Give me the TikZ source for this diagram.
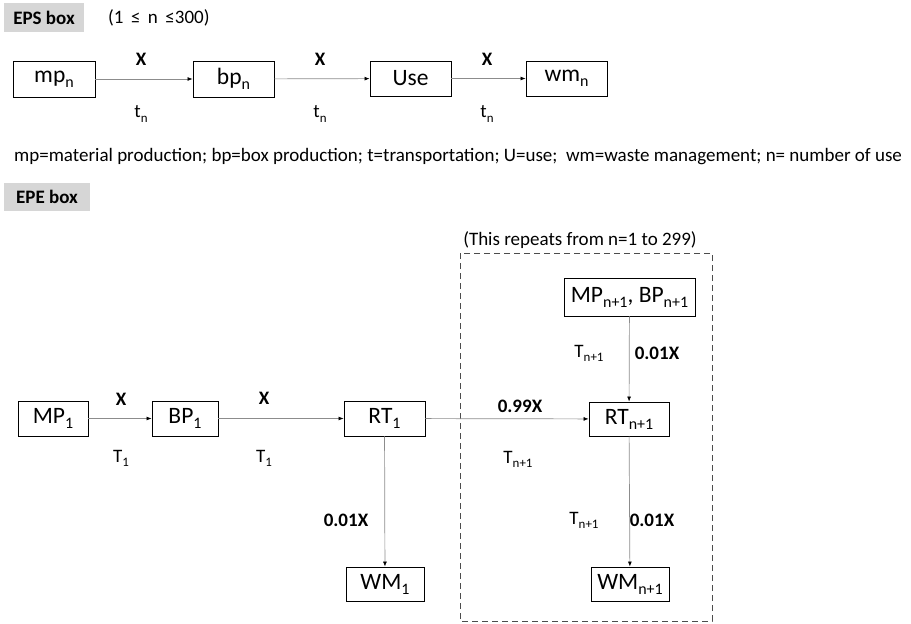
\documentclass[tikz,border=0pt]{standalone}
\usepackage{fontspec}
\setmainfont{Carlito}
\usetikzlibrary{arrows.meta}
\newcommand{\sbx}[1]{\raisebox{-0.45ex}{\scalebox{0.68}{#1}}}
\begin{document}
\begin{tikzpicture}[x=1pt,y=-1pt,
  box/.style={draw=black,line width=0.9pt,rectangle,inner sep=0pt,font=\fontsize{23.5}{26}\selectfont},
  arr/.style={draw=black!45,line width=0.7pt,-{Latex[length=5pt,width=4pt,color=black]}},
  lbl/.style={inner sep=0pt,font=\fontsize{19}{22}\selectfont},
  blbl/.style={inner sep=0pt,font=\bfseries\fontsize{19}{22}\selectfont},
  tag/.style={fill=black!16,inner sep=0pt,font=\bfseries\fontsize{19}{22}\selectfont}]
\useasboundingbox (0,0) rectangle (911,624);
% EPS header
\node[tag,minimum width=80,minimum height=29] (eps) at (44,17.5) {EPS box};
\node[lbl,anchor=west] (range) at (108,18) {(1 \,≤\, n \,≤300)};
% EPS row
\node[box,minimum width=82,minimum height=36] (mp) at (54,79) {mp\sbx{n}};
\node[box,minimum width=81,minimum height=36] (bp) at (233.5,79) {bp\sbx{n}};
\node[box,minimum width=81,minimum height=35] (use) at (410.5,78.5) {Use};
\node[box,minimum width=81,minimum height=35] (wm) at (566.5,78.5) {wm\sbx{n}};
\draw[arr] (mp) -- (bp);
\draw[arr] (bp) -- (use);
\draw[arr] (use) -- (wm);
\node[blbl] (x1) at (141,59) {X};
\node[blbl] (x2) at (320,59) {X};
\node[blbl] (x3) at (487,59) {X};
\node[lbl] (t1) at (141,114) {t\sbx{n}};
\node[lbl] (t2) at (320,114) {t\sbx{n}};
\node[lbl] (t3) at (487,114) {t\sbx{n}};
% legend
\node[lbl,anchor=west] (legend) at (14,157) {mp=material production; bp=box production; t=transportation; U=use;\ \ wm=waste management; n= number of use};
% EPE header
\node[tag,minimum width=86,minimum height=28] (epe) at (47,197) {EPE box};
% dashed region
\draw[dashed,draw=black!70,line width=0.9pt,dash pattern=on 6pt off 4pt] (460,253) rectangle (712,621);
\node[lbl] (rep) at (580,240) {(This repeats from n=1 to 299)};
% EPE nodes
\node[box,minimum width=131,minimum height=38] (mpbp) at (629.5,297) {MP\sbx{n+1}, BP\sbx{n+1}};
\node[box,minimum width=70,minimum height=35] (MP1) at (53,418.5) {MP\sbx{1}};
\node[box,minimum width=66,minimum height=35] (BP1) at (185,418.5) {BP\sbx{1}};
\node[box,minimum width=81,minimum height=35] (RT1) at (384.5,418.5) {RT\sbx{1}};
\node[box,minimum width=80,minimum height=34] (RTn) at (629,419) {RT\sbx{n+1}};
\node[box,minimum width=78,minimum height=34] (WM1) at (385,584) {WM\sbx{1}};
\node[box,minimum width=78,minimum height=34] (WMn) at (630,584) {WM\sbx{n+1}};
\draw[arr] (MP1) -- (BP1);
\draw[arr] (BP1) -- (RT1);
\draw[arr] (RT1) -- (RTn);
\draw[arr] (mpbp) -- (RTn);
\draw[arr] (RT1) -- (WM1);
\draw[arr] (RTn) -- (WMn);
\node[blbl] (ex1) at (121,399) {X};
\node[blbl] (ex2) at (264,398) {X};
\node[lbl] (eT1) at (121,458) {T\sbx{1}};
\node[lbl] (eT2) at (264,458) {T\sbx{1}};
\node[blbl] (e99) at (520,406) {0.99X};
\node[lbl] (eTn) at (518,459) {T\sbx{n+1}};
\node[lbl] (eTv) at (589,353) {T\sbx{n+1}};
\node[blbl] (e01a) at (657,353) {0.01X};
\node[blbl] (e01b) at (346,520) {0.01X};
\node[lbl] (eTw) at (584,520) {T\sbx{n+1}};
\node[blbl] (e01c) at (652,520) {0.01X};
\end{tikzpicture}
\end{document}
